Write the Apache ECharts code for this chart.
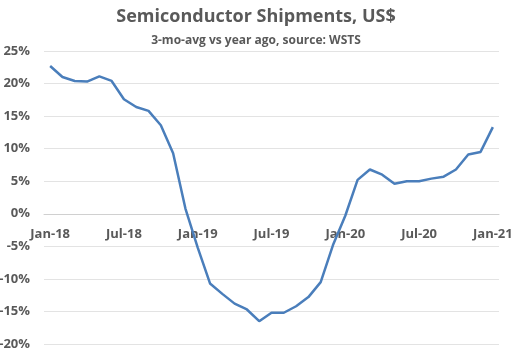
<!DOCTYPE html>
<html>
<head>
<meta charset="utf-8">
<script src="https://cdn.jsdelivr.net/npm/echarts@6/dist/echarts.min.js"></script>
<style>
  html, body { margin: 0; padding: 0; background: #fff; }
  #box { width: 512px; height: 353px; }
</style>
</head>
<body>
<div id="box"></div>
<script>
// months Jan-18 .. Jan-21
var months = [
  'Jan-18', 'Feb-18', 'Mar-18', 'Apr-18', 'May-18', 'Jun-18', 'Jul-18', 'Aug-18', 'Sep-18', 'Oct-18', 'Nov-18', 'Dec-18',
  'Jan-19', 'Feb-19', 'Mar-19', 'Apr-19', 'May-19', 'Jun-19', 'Jul-19', 'Aug-19', 'Sep-19', 'Oct-19', 'Nov-19', 'Dec-19',
  'Jan-20', 'Feb-20', 'Mar-20', 'Apr-20', 'May-20', 'Jun-20', 'Jul-20', 'Aug-20', 'Sep-20', 'Oct-20', 'Nov-20', 'Dec-20',
  'Jan-21'
];
// 3-mo-avg vs year ago, %
var shipments = [
  22.7, 21.0, 20.4, 20.3, 21.1, 20.4, 17.6, 16.4, 15.8, 13.6, 9.3, 0.8,
  -5.2, -10.7, -12.3, -13.8, -14.7, -16.5, -15.2, -15.2, -14.2, -12.8, -10.5, -4.8,
  -0.3, 5.2, 6.8, 6.0, 4.6, 5.0, 5.0, 5.4, 5.7, 6.8, 9.1, 9.5,
  13.3
];
var yTicks = { min: -20, max: 25, step: 5 };

var myChart = echarts.init(document.getElementById('box'));
var font = 'Open Sans';
var grey = '#595959';

var option = {
  animation: false,
  title: {
    text: 'Semiconductor Shipments, US$',
    subtext: '3-mo-avg vs year ago, source: WSTS',
    left: 'center',
    top: 3,
    itemGap: 9,
    textStyle: { fontFamily: font, fontSize: 18, fontWeight: 'bold', color: grey },
    subtextStyle: { fontFamily: font, fontSize: 12, fontWeight: 'bold', color: grey }
  },
  grid: { left: 44, right: 13, top: 51, bottom: 9, containLabel: false, outerBoundsMode: 'none' },
  xAxis: {
    type: 'category',
    data: months,
    boundaryGap: true,
    axisLine: { show: true, onZero: false, lineStyle: { color: '#d0d0d0', width: 1 } },
    axisTick: { interval: 5, length: 4, lineStyle: { color: '#d0d0d0' } },
    axisLabel: {
      interval: 5,
      margin: 14,
      fontFamily: font,
      fontSize: 13,
      fontWeight: 'bold',
      color: grey
    },
    splitLine: { show: false }
  },
  yAxis: {
    type: 'value',
    min: yTicks.min,
    max: yTicks.max,
    interval: yTicks.step,
    axisLine: { show: false },
    axisTick: { show: false },
    axisLabel: {
      formatter: '{value}%',
      margin: 14,
      fontFamily: font,
      fontSize: 13,
      fontWeight: 'bold',
      color: grey
    },
    splitLine: { lineStyle: { color: '#e3e3e3', width: 1 } }
  },
  series: [{
    name: 'Semiconductor Shipments',
    type: 'line',
    data: shipments,
    symbol: 'none',
    lineStyle: { color: '#4A7EBB', width: 2.5 }
  }]
};

myChart.setOption(option);

// put the category axis on the 0% line (onZero does not take here)
var zeroY = myChart.convertToPixel({ yAxisIndex: 0 }, 0);
var bottomY = myChart.convertToPixel({ yAxisIndex: 0 }, yTicks.min);
myChart.setOption({ xAxis: { offset: zeroY - bottomY } });
</script>
</body>
</html>
